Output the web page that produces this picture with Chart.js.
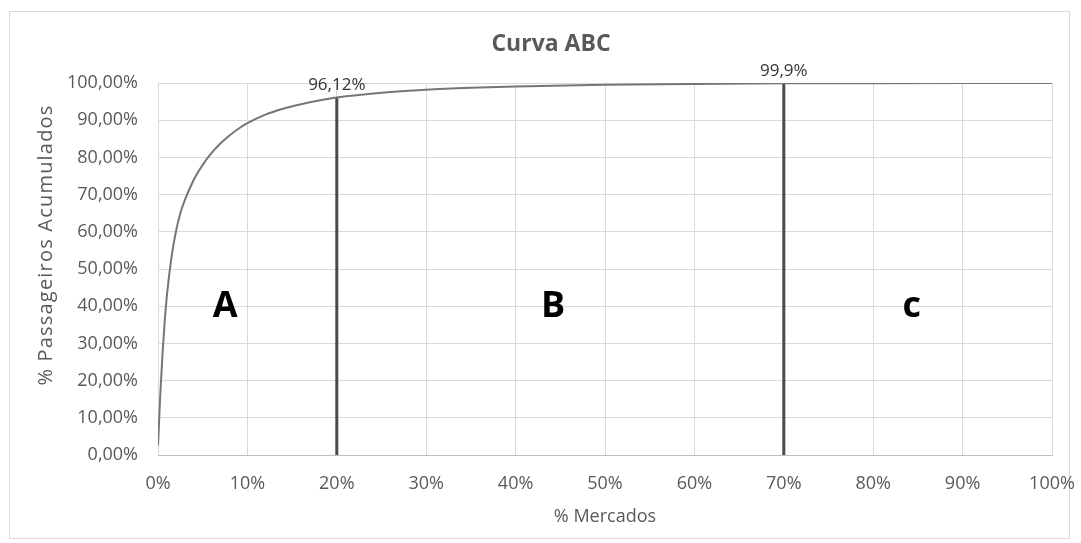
<!DOCTYPE html>
<html lang="pt">
<head>
  <meta charset="UTF-8">
  <title>Curva ABC</title>
  <script src="https://cdn.jsdelivr.net/npm/chart.js"></script>
  <style>
    body { margin: 0; padding: 0; background: #fff; }
    #wrap { position: relative; width: 1081px; height: 543px; }
    #frame { position: absolute; left: 9px; top: 11px; width: 1061px; height: 528px; border: 1px solid #d9d9d9; box-sizing: border-box; }
    #abc { position: absolute; left: 0; top: 0; }
  </style>
</head>
<body>
  <div id="wrap">
    <div id="frame"></div>
    <canvas id="abc" width="1081" height="543"></canvas>
  </div>

  <script>
    // % mercados (x) vs % passageiros acumulados (y)
    const mercados = [0, 0.25, 0.5, 0.75, 1, 1.5, 2, 2.5, 3, 4, 5, 6, 7, 8, 9, 10, 12, 14, 16, 18, 20, 25, 30, 35, 40, 50, 60, 70, 80, 90, 100];
    const passageiros = [2.5, 16, 27, 36, 43, 53, 60, 65, 68.5, 74, 78, 81.2, 83.8, 85.9, 87.7, 89.2, 91.5, 93.1, 94.3, 95.3, 96.12, 97.4, 98.2, 98.7, 99.05, 99.5, 99.75, 99.9, 99.96, 99.99, 100];

    // linhas de corte entre as classes
    const cortesX = [20, 70];
    const cortesY = [96.12, 99.9];
    const cortesTxt = ['96,12%', '99,9%'];

    // letras das classes (posição em unidades dos eixos)
    const classes = ['A', 'B', 'c'];
    const classesX = [7.5, 44.2, 84.3];
    const classesY = [37.2, 37.2, 37.2];

    const FONT = "'Open Sans', sans-serif";
    const grey = '#595959';

    const curve = mercados.map((x, i) => ({ x: x, y: passageiros[i] }));
    const cutSets = cortesX.map((x, i) => ({
      data: [{ x: x, y: 0 }, { x: x, y: cortesY[i] }],
      borderColor: '#4a4a4a',
      borderWidth: 3,
      pointRadius: 0,
      showLine: true
    }));

    const extras = {
      id: 'extras',
      afterDatasetsDraw(chart) {
        const ctx = chart.ctx;
        const xs = chart.scales.x, ys = chart.scales.y;
        ctx.save();
        // título
        ctx.textAlign = 'center';
        ctx.textBaseline = 'middle';
        ctx.fillStyle = grey;
        ctx.font = 'bold 23px ' + FONT;
        ctx.fillText('Curva ABC', 551, 44);

        ctx.textBaseline = 'alphabetic';
        ctx.fillStyle = '#333';
        ctx.font = '17px ' + FONT;
        cortesX.forEach((x, i) => {
          ctx.fillText(cortesTxt[i], xs.getPixelForValue(x), ys.getPixelForValue(cortesY[i]) - 7);
        });
        ctx.fillStyle = '#000';
        ctx.font = 'bold 36px ' + FONT;
        classes.forEach((t, i) => {
          ctx.fillText(t, xs.getPixelForValue(classesX[i]), ys.getPixelForValue(classesY[i]));
        });
        // título do eixo y
        ctx.translate(46, 245);
        ctx.rotate(-Math.PI / 2);
        ctx.textBaseline = 'middle';
        ctx.fillStyle = grey;
        ctx.font = '20px ' + FONT;
        ctx.letterSpacing = '1.2px';
        ctx.fillText('% Passageiros Acumulados', 0, 0);
        ctx.restore();
      }
    };

    new Chart(document.getElementById('abc'), {
      type: 'scatter',
      data: {
        datasets: [{
          data: curve,
          borderColor: '#767676',
          borderWidth: 2,
          pointRadius: 0,
          showLine: true,
          cubicInterpolationMode: 'monotone'
        }].concat(cutSets)
      },
      options: {
        responsive: false,
        animation: false,
        layout: { padding: { left: 0, right: 29, top: 83, bottom: 0 } },
        plugins: {
          legend: { display: false },
          tooltip: { enabled: false }
        },
        scales: {
          x: {
            type: 'linear',
            min: 0, max: 100,
            afterFit: s => { s.height = 88; s.paddingLeft = 0; s.paddingRight = 0; },
            ticks: {
              stepSize: 10,
              color: grey,
              padding: 18,
              font: { family: FONT, size: 18 },
              callback: v => v + '%'
            },
            grid: { color: '#d9d9d9', drawTicks: false },
            border: { color: '#bfbfbf' },
            title: {
              display: true,
              text: '% Mercados',
              color: grey,
              font: { family: FONT, size: 18 },
              padding: { top: 0, bottom: 15 }
            }
          },
          y: {
            min: 0, max: 100,
            afterFit: s => { s.width = 158; s.paddingTop = 0; s.paddingBottom = 0; },
            ticks: {
              stepSize: 10,
              color: grey,
              padding: 20,
              font: { family: FONT, size: 18 },
              callback: v => v.toFixed(2).replace('.', ',') + '%'
            },
            grid: { color: '#d9d9d9', drawTicks: false },
            border: { display: false }
          }
        }
      },
      plugins: [extras]
    });
  </script>
</body>
</html>
